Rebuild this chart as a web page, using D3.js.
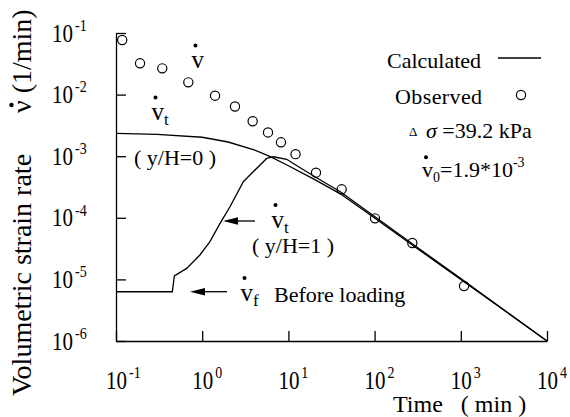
<!DOCTYPE html>
<html>
<head>
<meta charset="utf-8">
<script src="https://cdn.jsdelivr.net/npm/d3@7"></script>
<style>
  html, body { margin: 0; padding: 0; background: #fff; }
  svg { display: block; font-family: "Liberation Serif", "Times New Roman", serif; }
  text { fill: #000; }
</style>
</head>
<body>
<svg id="chart" width="570" height="417"></svg>
<script>
// Axis ticks (decades) and their exponent labels
const timeTicks = [0.1, 1, 10, 100, 1000, 10000];
const timeTickExp = ["-1", "0", "1", "2", "3", "4"];
const rateTicks = [1e-6, 1e-5, 1e-4, 1e-3, 1e-2, 1e-1];
const rateTickExp = ["-6", "-5", "-4", "-3", "-2", "-1"];

// Observed volumetric strain rate (1/min) vs time (min)
const obsTime = [0.118, 0.19, 0.344, 0.69, 1.41, 2.4, 3.85, 5.8, 8.2, 12.1, 20.9, 41.5, 101, 274, 1090];
const obsRate = [0.0769, 0.0322, 0.0267, 0.0158, 0.0096, 0.0064, 0.0037, 0.00243, 0.00168, 0.00108, 5.4e-4, 2.9e-4, 9.8e-5, 3.9e-5, 7.8e-6];

// Calculated rate at the top of the layer (y/H = 0)
const calcTimeTop = [0.1, 0.3, 1, 2, 4, 6, 10, 20, 40, 100, 300, 1000, 10000];
const calcRateTop = [2.34e-3, 2.26e-3, 2.03e-3, 1.7e-3, 1.27e-3, 1.0e-3, 7.0e-4, 4.2e-4, 2.45e-4, 9.9e-5, 3.3e-5, 1.0e-5, 1.0e-6];

// Calculated rate at the bottom of the layer (y/H = 1)
const calcTimeBottom = [0.1, 0.45, 0.475, 0.66, 0.94, 1.23, 1.61, 2.1, 3.0, 3.58, 5.6, 6.7, 9.55, 13.7, 21, 40, 100, 300, 1000, 10000];
const calcRateBottom = [6.3e-6, 6.3e-6, 1.14e-5, 1.51e-5, 2.49e-5, 4.1e-5, 8.1e-5, 1.51e-4, 3.85e-4, 4.95e-4, 9.2e-4, 9.8e-4, 8.9e-4, 6.5e-4, 4.5e-4, 2.65e-4, 1.05e-4, 3.45e-5, 1.03e-5, 1.0e-6];

const svg = d3.select("#chart");
const x = d3.scaleLog().domain([0.1, 1e4]).range([116, 547]);
const y = d3.scaleLog().domain([1e-6, 1e-1]).range([341, 33]);
const ink = "#000";

// Axes: ticks point into the plot
const yAxis = svg.append("g").attr("transform", "translate(116,0)")
  .call(d3.axisLeft(y).tickValues(rateTicks).tickSizeInner(-10).tickSizeOuter(0).tickFormat(""));
const xAxis = svg.append("g").attr("transform", "translate(0,341)")
  .call(d3.axisBottom(x).tickValues(timeTicks).tickSizeInner(-10).tickSizeOuter(0).tickFormat(""));
[yAxis, xAxis].forEach(g => {
  g.selectAll("path, line").attr("stroke", ink).attr("stroke-width", 1.3);
  g.selectAll("text").remove();
});

// Power-of-ten tick label: "10" with a raised exponent
function powLabel(px, py, exp) {
  const t = svg.append("text")
    .attr("transform", `translate(${px},${py}) scale(1,1.18)`)
    .attr("font-size", 21);
  t.append("tspan").text("10");
  t.append("tspan").attr("dx", 2).attr("dy", -9).attr("font-size", 14).text(exp);
}
rateTicks.forEach((v, i) => powLabel(52, y(v) + 8.5, rateTickExp[i]));
timeTicks.forEach((v, i) => powLabel(x(v) - 10, 389, timeTickExp[i]));

// Calculated curves
const line = d3.line().x(d => x(d[0])).y(d => y(d[1]));
[[calcTimeTop, calcRateTop], [calcTimeBottom, calcRateBottom]].forEach(([ts, vs]) => {
  svg.append("path")
    .datum(ts.map((t, i) => [t, vs[i]]))
    .attr("d", line)
    .attr("fill", "none")
    .attr("stroke", ink)
    .attr("stroke-width", 1.3);
});

// Observed points
svg.append("g").selectAll("circle")
  .data(obsTime.map((t, i) => [t, obsRate[i]]))
  .join("circle")
  .attr("cx", d => x(d[0]))
  .attr("cy", d => y(d[1]))
  .attr("r", 4.6)
  .attr("fill", "none")
  .attr("stroke", ink)
  .attr("stroke-width", 1.2);

// "v" with an overdot and optional subscript
function dotV(px, py, sub, size, subSize) {
  const t = svg.append("text").attr("x", px).attr("y", py).attr("font-size", size);
  t.append("tspan").text("v");
  if (sub) t.append("tspan").attr("dy", 5).attr("font-size", subSize).text(sub);
  svg.append("circle").attr("cx", px + 4).attr("cy", py - size * 0.9).attr("r", 2).attr("fill", ink);
  return t;
}

function arrow(tipX, tailX, yy) {
  svg.append("line").attr("x1", tipX + 12).attr("x2", tailX).attr("y1", yy).attr("y2", yy)
    .attr("stroke", ink).attr("stroke-width", 1.3);
  svg.append("path")
    .attr("d", `M${tipX},${yy}L${tipX + 15},${yy - 3.8}L${tipX + 15},${yy + 3.8}Z`)
    .attr("fill", ink);
}

// Annotations
dotV(191.5, 68, null, 25);
dotV(151.5, 120, "t", 25, 17);
dotV(271.5, 227.5, "t", 25, 17);
dotV(240.5, 300.5, "f", 25, 17);

svg.append("text").attr("x", 134).attr("y", 165).attr("font-size", 22)
  .style("white-space", "pre").text("( y/H=0 )");
svg.append("text").attr("x", 252).attr("y", 253).attr("font-size", 22)
  .style("white-space", "pre").text("( y/H=1 )");
svg.append("text").attr("x", 274).attr("y", 301.5).attr("font-size", 22)
  .text("Before loading");

arrow(223, 255, 221);
arrow(190, 227, 291.7);

// Legend
svg.append("text").attr("x", 387).attr("y", 68).attr("font-size", 22).text("Calculated");
svg.append("line").attr("x1", 498).attr("x2", 541).attr("y1", 58).attr("y2", 58)
  .attr("stroke", ink).attr("stroke-width", 1.3);
svg.append("text").attr("x", 395).attr("y", 104).attr("font-size", 22)
  .attr("letter-spacing", 0.4).text("Observed");
svg.append("circle").attr("cx", 521).attr("cy", 95).attr("r", 4.6)
  .attr("fill", "none").attr("stroke", ink).attr("stroke-width", 1.2);

svg.append("text").attr("x", 409).attr("y", 136).attr("font-size", 13).text("Δ");
const sig = svg.append("text").attr("x", 426).attr("y", 138).attr("font-size", 22)
  .style("white-space", "pre");
sig.append("tspan").attr("font-style", "italic").text("σ");
sig.append("tspan").text(" =39.2 kPa");

const v0 = dotV(422, 177, "0", 22, 14);
v0.append("tspan").attr("dy", -5).attr("font-size", 22).text("=1.9*10");
v0.append("tspan").attr("dy", -10).attr("font-size", 14).text("-3");

// Axis titles
svg.append("text").attr("x", 393).attr("y", 411.5).attr("font-size", 24)
  .style("white-space", "pre").text("Time   ( min )");

svg.append("text").attr("transform", "translate(31,396) rotate(-90)").attr("font-size", 28)
  .text("Volumetric strain rate");
svg.append("text").attr("transform", "translate(31,113) rotate(-90)").attr("font-size", 28)
  .style("white-space", "pre").text("ν (1/min)");
svg.append("circle").attr("cx", 11.5).attr("cy", 105).attr("r", 2.2).attr("fill", ink);
</script>
</body>
</html>
